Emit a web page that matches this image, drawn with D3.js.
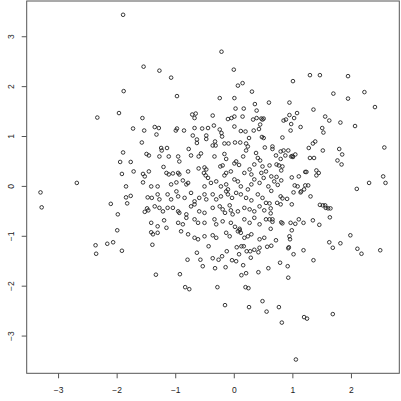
<!DOCTYPE html>
<html>
<head>
<meta charset="utf-8">
<script src="https://cdn.jsdelivr.net/npm/d3@7"></script>
<style>
  body { margin: 0; background: #fff; }
  svg { display: block; }
  text { font-family: "Liberation Sans", Arial, sans-serif; }
</style>
</head>
<body>
<svg id="chart" width="401" height="401"></svg>
<script>
// tick values for both axes
var xTicks = [-3, -2, -1, 0, 1, 2];
var yTicks = [-3, -2, -1, 0, 1, 2, 3];

// [x, y] pairs, upper left first
var upperLeft = [
  [-1.89,3.43],[-1.54,2.39],[-1.88,1.90],[-2.33,1.37],[-1.96,1.46],[-1.56,1.36],[-1.72,1.15],
  [-1.53,1.11],[-1.57,0.87],[-1.89,0.67],[-1.49,0.64],[-1.45,0.61],[-1.94,0.48],[-1.76,0.48],
  [-1.91,0.24],[-1.71,0.29],[-1.55,0.24],[-1.52,0.19],[-1.45,0.29],[-1.55,0.07],[-2.68,0.06],
  [-3.30,-0.13],[-3.28,-0.43],[-1.84,-0.01],[-1.84,-0.23],[-1.76,-0.20],[-1.82,-0.35],[-1.47,-0.23],
  [-2.10,-0.36],[-1.48,-0.45],[-1.46,-0.49],[-1.52,-0.52],[-1.98,-0.57],[-1.99,-0.89],[-2.36,-1.19],
  [-2.16,-1.16],[-2.06,-1.13],[-1.91,-1.30],[-2.35,-1.36]
];

var upperMiddle = [
  [-1.27,2.31],[-1.07,2.17],[-0.21,2.69],[0.00,2.33],[-0.97,1.80],[0.07,2.01],[0.15,2.06],
  [0.31,1.89],[-0.24,1.76],[0.01,1.76],[0.60,1.67],[0.36,1.64],[0.03,1.55],[0.17,1.55],
  [0.39,1.51],[-0.71,1.43],[-0.65,1.45],[-0.67,1.36],[-0.36,1.41],[-0.10,1.34],[-0.04,1.36],
  [0.01,1.39],[0.15,1.39],[0.33,1.33],[0.39,1.36],[0.47,1.35],[0.51,1.35],[0.49,1.33]
];

var upperRight = [
  [1.30,2.22],[1.47,2.22],[1.95,2.20],[1.01,2.10],[1.70,1.85],[2.23,1.88],[1.95,1.75],
  [2.41,1.58],[0.95,1.67],[1.36,1.53],[1.08,1.46],[0.95,1.42],[1.03,1.36],[0.89,1.33],
  [0.85,1.31],[1.56,1.39],[1.63,1.31],[1.82,1.27],[0.98,1.24],[1.14,1.18],[1.51,1.16],[2.07,1.20]
];

var centre = [
  [-1.35,1.18],[-1.28,1.16],[-1.32,1.03],[-0.97,1.15],[-0.99,1.11],[-0.85,1.11],[-0.67,1.16],
  [-0.54,1.15],[-0.44,1.16],[-0.34,1.21],[-0.47,1.01],[-0.24,1.13],[-0.21,1.06],[-0.20,0.99],
  [0.01,1.19],[0.12,1.10],[0.20,1.09],[0.34,1.11],[0.45,1.23],[0.43,1.14],[0.48,0.98],[0.51,0.96],
  [-0.70,1.01],[-0.63,0.93],[-0.63,0.86],[-0.32,0.89],[-0.36,0.81],[-0.31,0.81],[-0.16,0.85],
  [-0.09,0.85],[0.02,0.87],[0.11,0.87],[0.26,0.96],[0.21,0.85],[0.24,0.79],[0.53,0.77],
  [-1.24,0.76],[-1.23,0.71],[-1.14,0.76],[-0.77,0.74],[-0.47,0.94],
  [-1.27,0.59],[-1.11,0.59],[-0.95,0.59],[-0.93,0.49],[-0.73,0.61],[-0.60,0.59],[-0.33,0.59],
  [-0.16,0.64],[-0.13,0.54],[0.04,0.49],[0.16,0.59],[0.21,0.71],[0.38,0.66],[0.41,0.56],
  [0.45,0.51],[-0.56,0.65],
  [-1.20,0.38],[-1.15,0.26],[-1.11,0.23],[-1.04,0.25],[-0.95,0.26],[-0.93,0.23],[-0.78,0.29],
  [-0.60,0.35],[-0.50,0.37],[-0.47,0.33],[-0.51,0.26],[-0.48,0.21],[-0.23,0.39],[-0.19,0.41],
  [0.01,0.45],[0.09,0.42],[0.35,0.43],[0.49,0.39],[0.27,0.33],[0.30,0.23],[0.18,0.26],
  [-0.13,0.26],[-0.16,0.21],[-0.05,0.29],[0.47,0.26],[0.55,0.29],
  [-1.07,0.03],[-0.98,0.07],[-0.87,0.11],[-0.78,0.06],[-0.81,0.03],[-0.44,0.16],[-0.39,0.06],
  [-0.50,-0.01],[-0.30,0.09],[-0.22,-0.01],[-0.13,0.03],[-0.10,-0.07],[0.01,0.13],[0.07,0.09],
  [0.12,-0.01],[0.24,-0.07],[0.30,0.03],[0.35,0.13],[0.44,0.06],[0.51,0.16],[0.59,-0.01],
  [-1.30,-0.01],[-1.41,-0.01],
  [-1.40,-0.24],[-1.30,-0.17],[-1.27,-0.27],[-1.13,-0.17],[-1.07,-0.27],[-0.98,-0.11],[-0.95,-0.21],
  [-0.84,-0.24],[-0.73,-0.14],[-0.67,-0.31],[-0.59,-0.24],[-0.50,-0.17],[-0.47,-0.27],[-0.36,-0.17],
  [-0.30,-0.27],[-0.22,-0.21],[-0.13,-0.11],[-0.10,-0.17],[-0.03,-0.24],[0.04,-0.14],[0.12,-0.17],
  [0.21,-0.24],[0.30,-0.29],[0.41,-0.17],[0.49,-0.24],[0.55,-0.34],
  [-1.35,-0.41],[-1.27,-0.44],[-1.21,-0.51],[-1.13,-0.44],[-1.04,-0.44],[-0.95,-0.51],[-0.93,-0.54],
  [-0.81,-0.57],[-0.73,-0.41],[-0.67,-0.37],[-0.59,-0.51],[-0.50,-0.54],[-0.36,-0.44],[-0.24,-0.41],
  [-0.19,-0.47],[-0.15,-0.54],[-0.07,-0.39],[-0.05,-0.49],[-0.02,-0.57],[0.07,-0.51],[0.18,-0.44],
  [0.27,-0.47],[0.35,-0.51],[0.44,-0.41],[0.52,-0.49],
  [-1.41,-0.74],[-1.30,-0.81],[-1.19,-0.69],[-1.15,-0.84],[-0.95,-0.74],[-0.87,-0.77],[-0.81,-0.64],
  [-0.67,-0.67],[-0.61,-0.74],[-0.50,-0.74],[-0.33,-0.67],[-0.30,-0.77],[-0.19,-0.71],[-0.05,-0.74],
  [0.02,-0.82],[0.10,-0.86],[0.18,-0.67],[0.27,-0.74],[0.35,-0.64],[0.44,-0.77],[0.55,-0.67],
  [-1.41,-0.93],[-1.38,-0.97],[-1.30,-0.94],[-0.90,-0.91],[-0.78,-0.97],[-0.67,-1.04],[-0.61,-1.07],
  [-0.50,-1.01],[-0.36,-0.99],[-0.30,-1.04],[-0.13,-0.94],[-0.07,-1.01],[0.07,-0.91],[0.10,-0.89],
  [0.12,-0.94],[0.18,-1.04],[0.24,-1.01],[0.30,-0.97],[0.44,-1.07],[0.52,-1.04]
];

var middleRight = [
  [0.97,1.11],[1.53,1.07],[0.83,0.97],[0.66,0.79],[0.66,0.74],[1.39,0.89],[1.35,0.85],[1.28,0.76],
  [1.52,0.71],[1.80,0.74],[1.85,0.63],[2.57,0.77],[0.72,0.61],[0.80,0.69],[0.85,0.71],[0.93,0.71],
  [0.88,0.61],[0.98,0.59],[1.00,0.60],[1.01,0.58],[1.05,0.63],[0.80,0.54],[1.30,0.56],[1.37,0.56],
  [1.77,0.51],[1.84,0.43],[0.61,0.41],[0.73,0.43],[0.77,0.41],[0.83,0.39],[0.81,0.31],[1.22,0.28],
  [1.24,0.28],[1.41,0.31],[1.45,0.26],[1.41,0.21],[0.64,0.19],[0.73,0.18],[0.81,0.11],[0.69,0.09],
  [0.75,0.02],[0.64,-0.10],[0.99,0.17],[1.11,0.19],[1.04,0.01],[1.09,-0.01],[1.22,0.01],[1.27,0.01],
  [1.20,-0.07],[1.15,-0.11],[1.14,-0.13],[1.02,-0.13],[1.31,-0.21],[0.80,-0.21],[0.83,-0.25],
  [0.91,-0.26],[0.74,-0.34],[0.80,-0.37],[0.99,-0.37],[0.61,-0.35],[0.63,-0.45],[0.63,-0.55],
  [0.61,-0.67],[2.31,0.06],[2.55,0.19],[2.59,0.06],[2.10,-0.06],[1.47,-0.38],[1.52,-0.39],
  [1.56,-0.39],[1.57,-0.44],[1.61,-0.45],[1.65,-0.45],[1.64,-0.63],[1.35,-0.69],[1.46,-0.78],
  [1.11,-0.67],[1.19,-0.74],[1.05,-0.76],[0.97,-0.74],[0.99,-0.89],[0.81,-0.73],[0.83,-0.75],
  [0.66,-0.67],[0.66,-0.72],[0.63,-0.86],[0.95,-1.01],[0.96,-1.07],[1.99,-0.99],[0.72,-1.09],
  [1.63,-1.13],[1.82,-1.15],[1.69,-1.24],[2.11,-1.26],[2.50,-1.29],[0.93,-1.25],[0.94,-1.23],
  [1.19,-1.29]
];

var lower = [
  [1.02,-1.37],[2.18,-1.36],[0.79,-1.54],[0.92,-1.61],[1.36,-1.49],[0.93,-1.84],[0.77,-2.43],
  [1.69,-2.57],[1.20,-2.63],[1.25,-2.66],[0.82,-2.74],[1.06,-3.48],
  [-1.39,-1.18],[-0.43,-1.21],[-0.63,-1.34],[-0.79,-1.48],[-0.57,-1.48],[-0.53,-1.61],[-0.36,-1.45],
  [-0.26,-1.48],[-0.20,-1.41],[-0.12,-1.31],[-0.32,-1.65],[-0.14,-1.63],[-0.03,-1.49],[0.04,-1.51],
  [0.09,-1.37],[0.05,-1.23],[0.13,-1.21],[0.17,-1.21],[0.22,-1.31],[0.28,-1.31],[0.35,-1.28],
  [0.44,-1.24],[0.42,-1.33],[0.29,-1.44],[0.57,-1.22],[0.64,-1.20],[0.16,-1.59],[0.13,-1.79],
  [0.21,-1.75],[0.42,-1.73],[0.59,-1.65],[-1.33,-1.78],[-0.92,-1.77],[-0.83,-2.03],[-0.76,-2.07],
  [-0.28,-2.03],[0.20,-2.03],[0.25,-2.05],[-0.15,-2.39],[0.26,-2.43],[0.49,-2.31],[0.56,-2.52]
];

var points = upperLeft.concat(upperMiddle, upperRight, centre, middleRight, lower);

// plot region inside the 401 x 401 picture
var margin = { top: 1, right: 1.7, bottom: 27.7, left: 26.7 };
var width = 401 - margin.left - margin.right;
var height = 401 - margin.top - margin.bottom;

// R style: data range widened by 4% on each side
function padded(ext) {
  var r = ext[1] - ext[0];
  return [ext[0] - 0.04 * r, ext[1] + 0.04 * r];
}

var x = d3.scaleLinear()
  .domain(padded(d3.extent(points, function (d) { return d[0]; })))
  .range([0, width]);
var y = d3.scaleLinear()
  .domain(padded(d3.extent(points, function (d) { return d[1]; })))
  .range([height, 0]);

var svg = d3.select("#chart").append("g")
  .attr("transform", "translate(" + margin.left + "," + margin.top + ")");

var axisColor = "#555";

// x axis
var gx = svg.append("g")
  .attr("transform", "translate(0," + height + ")")
  .call(d3.axisBottom(x).tickValues(xTicks).tickSize(5).tickPadding(9).tickFormat(d3.format("d")));
gx.select(".domain").remove();
gx.selectAll("line").attr("stroke", axisColor);
gx.selectAll("text").attr("font-size", 8.5).attr("fill", "#222");

// y axis, labels turned like R's default
var gy = svg.append("g")
  .call(d3.axisLeft(y).tickValues(yTicks).tickSize(5).tickFormat(d3.format("d")));
gy.select(".domain").remove();
gy.selectAll("line").attr("stroke", axisColor);
gy.selectAll("text")
  .attr("font-size", 8.5)
  .attr("fill", "#222")
  .attr("x", null)
  .attr("dy", null)
  .attr("text-anchor", "middle")
  .attr("transform", "translate(-12.5,0) rotate(-90)");

// frame
svg.append("rect")
  .attr("width", width)
  .attr("height", height)
  .attr("fill", "none")
  .attr("stroke", axisColor)
  .attr("stroke-width", 1);

// open circles
svg.append("g").selectAll("circle")
  .data(points)
  .enter().append("circle")
  .attr("cx", function (d) { return x(d[0]); })
  .attr("cy", function (d) { return y(d[1]); })
  .attr("r", 1.8)
  .attr("fill", "none")
  .attr("stroke", "#222")
  .attr("stroke-width", 0.9);
</script>
</body>
</html>
